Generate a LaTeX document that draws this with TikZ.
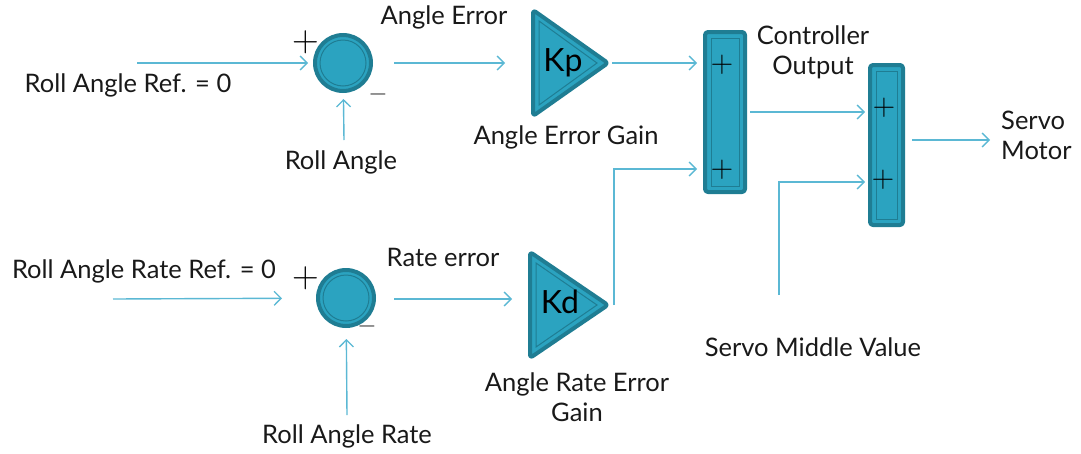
\documentclass[tikz,border=0pt]{standalone}
\usepackage{fontspec}
\setmainfont{Lato}
\newfontfamily\signfont{Latin Modern Roman}
\usetikzlibrary{arrows.meta}
\definecolor{wire}{HTML}{5BB8D4}
\definecolor{bodyfill}{HTML}{2BA3C0}
\definecolor{rim}{HTML}{1F7D93}
\tikzset{
  conn/.style={draw=wire, line width=1.4pt, -{Straight Barb[length=7pt,width=14pt,line width=1.3pt]}},
  lbl/.style={font=\fontsize{25.5}{30}\selectfont, inner sep=0pt, text=black!90},
  plussign/.style={font=\signfont\fontsize{37}{37}\selectfont, inner sep=0pt},
  minussign/.style={font=\signfont\fontsize{24}{24}\selectfont, inner sep=0pt},
  barsign/.style={font=\signfont\fontsize{31}{31}\selectfont, inner sep=0pt},
  gainlbl/.style={font=\fontsize{32}{32}\selectfont, inner sep=0pt},
  sumnode/.style={circle, fill=bodyfill, draw=rim, line width=4pt, minimum size=56pt, inner sep=0pt},
  innerrim/.style={draw=rim, line width=1pt},
  shell/.style={fill=bodyfill, draw=rim, line width=4pt, rounded corners=3pt, line join=round},
}
\begin{document}
\begin{tikzpicture}[x=1pt,y=-1pt]
\useasboundingbox (0,0) rectangle (1081,453);

% summing junctions
\node[sumnode] (s1) at (343,63) {};
\draw[innerrim] (s1.center) circle (23);
\node[sumnode] (s2) at (346,298) {};
\draw[innerrim] (s2.center) circle (23);

% gain blocks
\draw[shell] (533,10) -- (608,63) -- (533,116) -- cycle;
\draw[innerrim] (539,21) -- (597,63) -- (539,105) -- cycle;
\node[gainlbl] (kp) at (563,63) {Kp};
\coordinate (kptip) at (608,63);

\draw[shell] (530,252) -- (608,305) -- (530,358) -- cycle;
\draw[innerrim] (536,263) -- (597,305) -- (536,347) -- cycle;
\node[gainlbl] (kd) at (560,302) {Kd};
\coordinate (kdtip) at (608,305);

% summing bars
\draw[shell] (705,32) rectangle (745,192);
\draw[innerrim] (711,38) rectangle (739,186);
\node[inner sep=0pt, minimum width=40pt, minimum height=160pt] (b1) at (725,112) {};
\node[barsign] at (722,65) {+};
\node[barsign] at (722,170) {+};

\draw[shell] (870,65) rectangle (903,225);
\draw[innerrim] (876,71) rectangle (897,219);
\node[inner sep=0pt, minimum width=33pt, minimum height=160pt] (b2) at (886.5,145) {};
\node[barsign] at (884,108) {+};
\node[barsign] at (883,180) {+};

% port and source points
\coordinate (r1) at (137,63);
\coordinate (m1) at (344,140);
\coordinate (r2) at (113,299);
\coordinate (m2) at (347,415);
\coordinate (b1in1) at (705,65);
\coordinate (b1in2) at (705,169);
\coordinate (b2in1) at (870,112);
\coordinate (b2in2) at (870,182);
\coordinate (mid) at (779,295);
\coordinate (motor) at (990,140);
\coordinate (kpin) at (533,63);
\coordinate (kdin) at (530,299);

% signal lines
\draw[conn, shorten >=5pt] (r1) -- (s1);
\draw[conn, shorten >=6pt] (m1) -- (s1);
\draw[conn, shorten <=21pt, shorten >=28pt] (s1.east) -- (kpin);
\draw[conn, shorten <=4pt, shorten >=8pt] (kptip) -- (kptip -| b1in1);
\draw[conn, shorten <=6pt] (kdtip) -| ([xshift=6pt]kdtip |- b1in2) -- ([xshift=-8pt]b1in2);
\draw[conn, shorten <=5pt, shorten >=5pt] (b1.east |- b2in1) -- (b2in1);
\draw[conn] (mid) |- ([xshift=-5pt]b2in2);
\draw[conn, shorten <=9pt] (b2.east |- motor) -- (motor);

\draw[conn, shorten >=34pt] (r2) -- (s2);
\draw[conn, shorten >=11pt] (m2) -- (s2);
\draw[conn, shorten <=18pt, shorten >=18pt] (s2.east |- kdin) -- (kdin);

% signs at the junctions
\node[plussign] at (306,42) {+};
\node[minussign] at (378,97) {\char"2212};
\node[plussign] at (306,278) {+};
\node[minussign] at (367,329) {\char"2212};

% labels
\node[lbl] at (128,85) {Roll Angle Ref. = 0};
\node[lbl] at (341,162) {Roll Angle};
\node[lbl] at (444,17) {Angle Error};
\node[lbl] at (566,137) {Angle Error Gain};
\node[lbl, align=center] at (813,52) {Controller\\Output};
\node[lbl, align=left, anchor=west] at (1001,135) {Servo\\Motor};
\node[lbl] at (813,347) {Servo Middle Value};
\node[lbl] at (144,271) {Roll Angle Rate Ref. = 0};
\node[lbl] at (443,257) {Rate error};
\node[lbl, align=center] at (577,397) {Angle Rate Error\\Gain};
\node[lbl] at (347,436) {Roll Angle Rate};
\end{tikzpicture}
\end{document}
